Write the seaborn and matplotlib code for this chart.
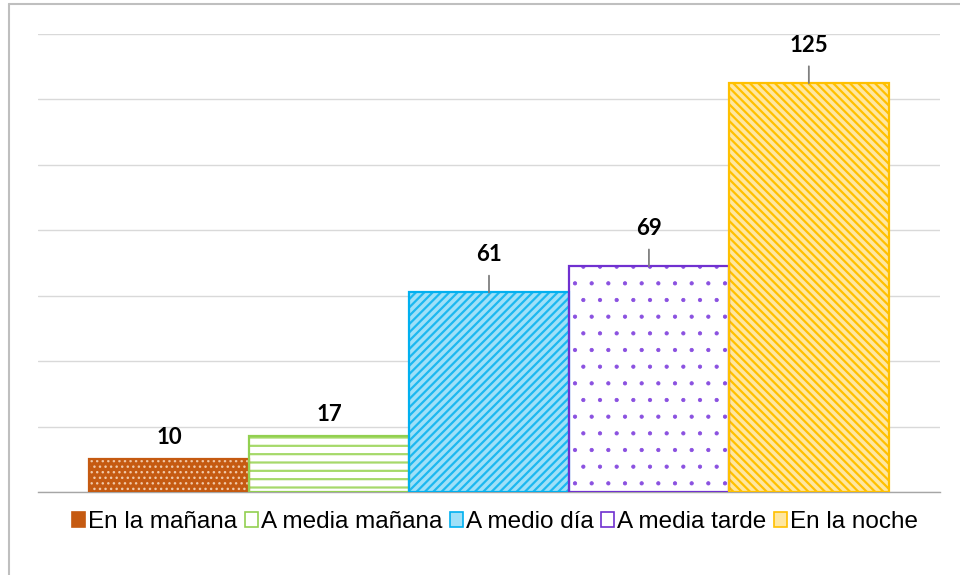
import matplotlib
matplotlib.use("Agg")
import matplotlib.pyplot as plt
import seaborn as sns
import pandas as pd
from matplotlib.patches import Patch, Rectangle
from matplotlib.lines import Line2D

categories = ["En la mañana", "A media mañana", "A medio día", "A media tarde", "En la noche"]
values = [10, 17, 61, 69, 125]
colors = ["#C55A11", "#92D050", "#00B0F0", "#7030D0", "#FFC000"]
faces = ["#C55A11", "#FFFFFF", "#9FE0F8", "#FFFFFF", "#FFE7A0"]
hatch_colors = ["#F0C8A8", "#A6D96A", "#1CB8F0", "#8A50E0", "#FFC000"]
hatches = ["...", "--", "////", ".", "\\\\\\\\"]
hatch_lw = [1.0, 1.6, 1.6, 0.6, 1.6]

sns.set_theme(style="white")
plt.rcParams["hatch.linewidth"] = 1.3
plt.rcParams["text.color"] = "black"

df = pd.DataFrame({"cat": categories, "val": values})

fig = plt.figure(figsize=(9.6, 5.75), dpi=100)
W, H = 960, 575
ax = fig.add_axes([38 / W, (H - 492) / H, (940 - 38) / W, (492 - 34) / H])

sns.barplot(data=df, x="cat", y="val", hue="cat", palette=colors, order=categories,
            hue_order=categories, width=1.0, dodge=False, legend=False, ax=ax)

patches = []
for cont in ax.containers:
    for p in cont:
        patches.append(p)
patches.sort(key=lambda p: p.get_x())

for i, p in enumerate(patches):
    p.set_facecolor(faces[i])
    p.set_edgecolor(hatch_colors[i])
    p.set_hatch(hatches[i])
    if hasattr(p, "set_hatch_linewidth"):
        p.set_hatch_linewidth(hatch_lw[i])
    p.set_linewidth(0)
    p.set_zorder(2)
    ax.add_patch(Rectangle((p.get_x(), p.get_y()), p.get_width(), p.get_height(),
                           fill=False, edgecolor=colors[i], linewidth=1.6, zorder=3))

ax.set_ylim(0, 140)
ax.set_xlim(-0.82, 4.82)
ax.set_yticks(range(0, 141, 20))
ax.set_yticklabels([])
ax.set_xticks([])
ax.set_xlabel("")
ax.set_ylabel("")
ax.tick_params(left=False, bottom=False)
ax.grid(axis="y", color="#D9D9D9", linewidth=1.0, zorder=0)
ax.set_axisbelow(True)
for s in ["top", "right", "left"]:
    ax.spines[s].set_visible(False)
ax.spines["bottom"].set_color("#A6A6A6")
ax.spines["bottom"].set_linewidth(1.0)

# data labels
for i, p in enumerate(patches):
    xc = p.get_x() + p.get_width() / 2
    v = values[i]
    if v >= 40:
        ax.annotate(str(v), xy=(xc, v), xytext=(0, 27), textcoords="offset points",
                    ha="center", va="center", fontsize=16, fontweight="bold",
                    family="Lato", color="black",
                    arrowprops=dict(arrowstyle="-", color="#7F7F7F", lw=1.3,
                                    shrinkA=5, shrinkB=0))
    else:
        ax.annotate(str(v), xy=(xc, v), xytext=(0, 16), textcoords="offset points",
                    ha="center", va="center", fontsize=16, fontweight="bold",
                    family="Lato", color="black")

handles = [Patch(facecolor=faces[i], edgecolor=colors[i], linewidth=1.2)
           for i in range(len(categories))]
leg = fig.legend(handles, categories, loc="center", bbox_to_anchor=(495 / W, (H - 522) / H),
                 ncol=5, frameon=False, handlelength=0.55, handleheight=0.55,
                 handletextpad=0.12, columnspacing=0.3, borderpad=0,
                 prop={"family": "Liberation Sans", "size": 17.5})
for t in leg.get_texts():
    t.set_color("black")

# chart area frame
fig.add_artist(Line2D([9 / W, 9 / W], [0, 1 - 4 / H], color="#BFBFBF", lw=1.5,
                      transform=fig.transFigure))
fig.add_artist(Line2D([9 / W, 1], [1 - 4 / H, 1 - 4 / H], color="#BFBFBF", lw=1.5,
                      transform=fig.transFigure))

fig.savefig("out.png", dpi=100)
